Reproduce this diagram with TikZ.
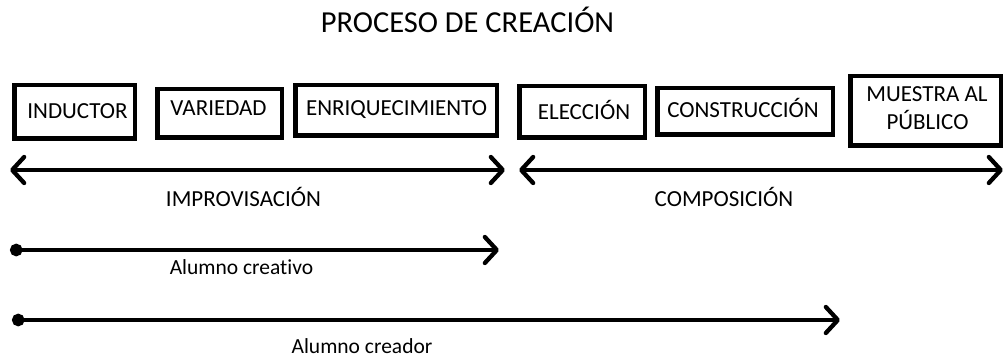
\documentclass[tikz,border=0pt]{standalone}
\usepackage{fontspec}
\setmainfont{Carlito}[RawFeature={-liga,-dlig}]
\usetikzlibrary{arrows.meta}
\begin{document}
\begin{tikzpicture}[x=1pt,y=-1pt,
  box/.style={draw, line width=4.5pt, inner sep=0pt},
  lbl/.style={anchor=base, inner sep=0pt, font=\fontsize{23}{27}\selectfont},
  small/.style={anchor=base, inner sep=0pt, font=\fontsize{21.5}{25}\selectfont},
  ttl/.style={anchor=base, inner sep=0pt, font=\fontsize{30.5}{36}\selectfont},
  conn/.style={line width=4.3pt},
  barb/.tip={Straight Barb[length=12pt,width=26pt,round]},
  dot/.tip={Circle[length=12.5pt]}
]
\useasboundingbox (0,0) rectangle (1005,358);

% title
\node[ttl] (title) at (467.5,33) {PROCESO DE CREACIÓN};

% boxes
\node[box, minimum width=120.5pt, minimum height=53.5pt] (b1) at (74.5,112) {};
\node[box, minimum width=124.5pt, minimum height=48.5pt] (b2) at (219.5,113.5) {};
\node[box, minimum width=201.5pt, minimum height=50.5pt] (b3) at (396,110.5) {};
\node[box, minimum width=125.5pt, minimum height=51.5pt] (b4) at (582,112) {};
\node[box, minimum width=175.5pt, minimum height=46.5pt] (b5) at (745,111.5) {};
\node[box, minimum width=150.5pt, minimum height=69.5pt] (b6) at (925.5,111) {};

% box texts
\node[lbl] (t1) at (77.5,119) {INDUCTOR};
\node[lbl] (t2) at (218.5,116) {VARIEDAD};
\node[lbl] (t3) at (396.5,116) {ENRIQUECIMIENTO};
\node[lbl] (t4) at (584,120) {ELECCIÓN};
\node[lbl] (t5) at (743,118) {CONSTRUCCIÓN};
\node[lbl] (t6a) at (927,102) {MUESTRA AL};
\node[lbl] (t6b) at (927.5,130) {PÚBLICO};

% arrow end points
\coordinate (i1) at (10,170);
\coordinate (i2) at (505,170);
\coordinate (c1) at (519,170);
\coordinate (c2) at (1003,170);
\coordinate (a1) at (10,250);
\coordinate (a2) at (499,250);
\coordinate (r1) at (12,320);
\coordinate (r2) at (840,320);

\draw[conn, barb-barb] (i1) -- (i2);
\draw[conn, barb-barb] (c1) -- (c2);
\draw[conn, dot-barb] (a1) -- (a2);
\draw[conn, dot-barb] (r1) -- (r2);

% labels
\node[lbl] (l1) at (243.5,207) {IMPROVISACIÓN};
\node[lbl] (l2) at (724,207) {COMPOSICIÓN};
\node[small] (l3) at (241.5,275) {Alumno creativo};
\node[small] (l4) at (362,353) {Alumno creador};
\end{tikzpicture}
\end{document}
